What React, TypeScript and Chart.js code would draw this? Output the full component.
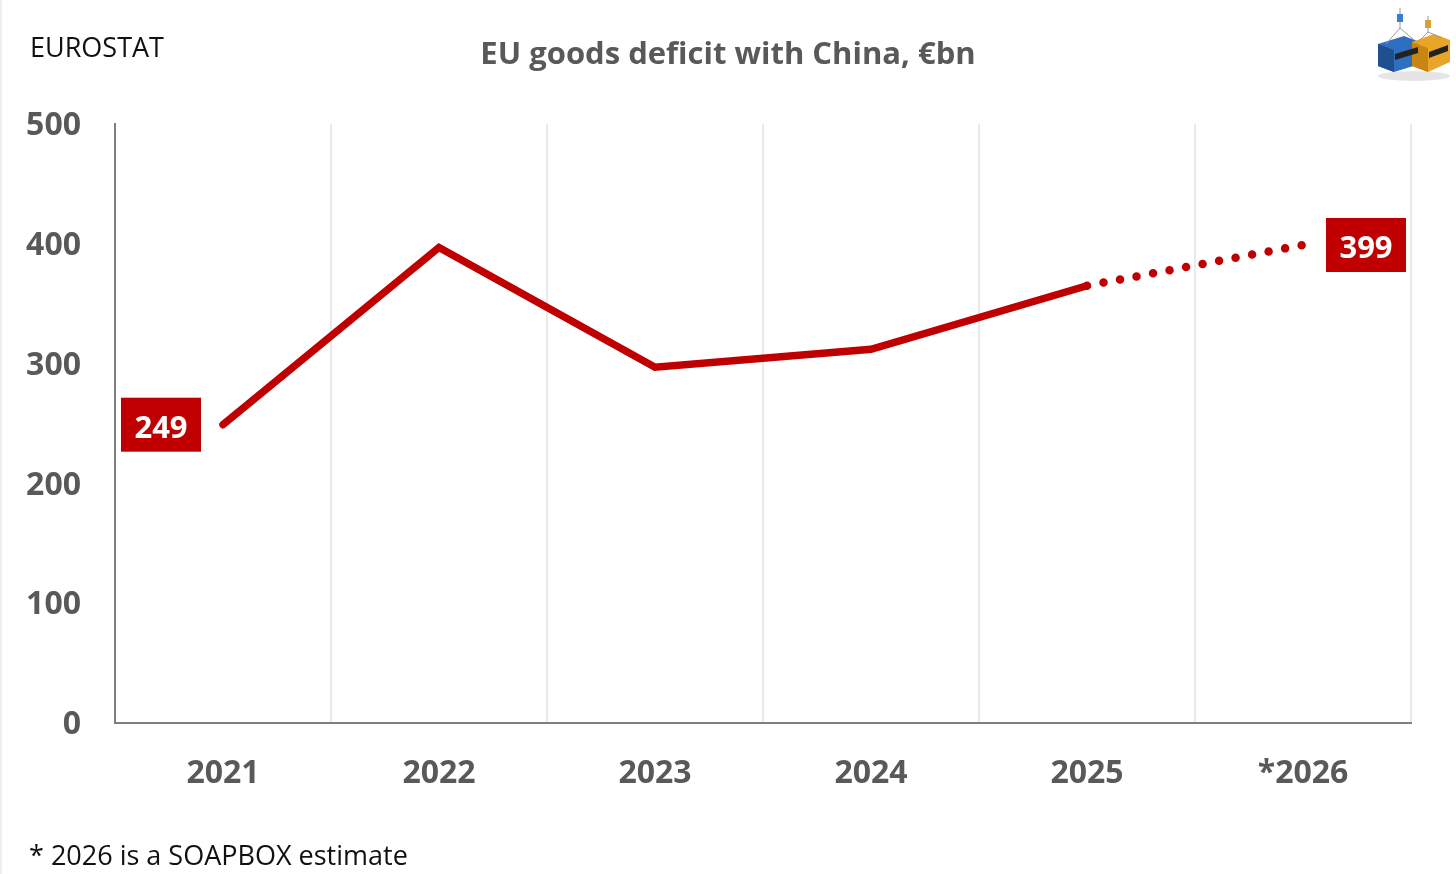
import React, { useEffect, useRef } from "react";
import { Chart, registerables } from "chart.js";

Chart.register(...registerables);

const categories = ["2021", "2022", "2023", "2024", "2025", "*2026"];
const deficit = [249, 397, 297, 312, 365, 399];
const yTicks = [0, 100, 200, 300, 400, 500];
const titleText = "EU goods deficit with China, €bn";
const sourceText = "EUROSTAT";
const noteText = "* 2026 is a SOAPBOX estimate";
const labelledIdx = [0, 5];

const RED = "#C00000";
const GREY = "#595959";
const FONT = "'Open Sans', 'Noto Sans', sans-serif";

const overlayPlugin = {
  id: "overlay",
  afterDatasetsDraw(chart: any) {
    const ctx = chart.ctx;
    const meta = chart.getDatasetMeta(0);
    ctx.save();
    labelledIdx.forEach((i) => {
      const pt = meta.data[i];
      const dx = i === 0 ? -62 : 63;
      const cx = pt.x + dx;
      const cy = pt.y;
      const w = 80;
      const h = 54;
      ctx.fillStyle = RED;
      ctx.fillRect(cx - w / 2, cy - h / 2, w, h);
      ctx.fillStyle = "#ffffff";
      ctx.font = `bold 31px ${FONT}`;
      ctx.textAlign = "center";
      ctx.textBaseline = "middle";
      ctx.fillText(String(deficit[i]), cx, cy + 4);
    });
    ctx.restore();
  },
  afterDraw(chart: any) {
    const ctx = chart.ctx;
    ctx.save();
    // title
    ctx.fillStyle = GREY;
    ctx.font = `bold 31px ${FONT}`;
    ctx.textAlign = "center";
    ctx.textBaseline = "middle";
    ctx.fillText(titleText, 728, 55);
    // source
    ctx.fillStyle = "#111111";
    ctx.font = `27px ${FONT}`;
    ctx.textAlign = "left";
    ctx.fillText(sourceText, 30, 49);
    // note
    ctx.fillText(noteText, 29, 857);
    // simple logo: two containers
    ctx.fillStyle = "rgba(0,0,0,0.10)";
    ctx.beginPath();
    ctx.ellipse(1414, 76, 36, 5, 0, 0, Math.PI * 2);
    ctx.fill();
    // blue container
    ctx.fillStyle = "#2f6fbf";
    ctx.beginPath();
    ctx.moveTo(1378, 44);
    ctx.lineTo(1404, 36);
    ctx.lineTo(1420, 42);
    ctx.lineTo(1420, 64);
    ctx.lineTo(1394, 72);
    ctx.lineTo(1378, 66);
    ctx.closePath();
    ctx.fill();
    ctx.fillStyle = "#1f4f8f";
    ctx.beginPath();
    ctx.moveTo(1378, 44);
    ctx.lineTo(1394, 50);
    ctx.lineTo(1394, 72);
    ctx.lineTo(1378, 66);
    ctx.closePath();
    ctx.fill();
    // orange container
    ctx.fillStyle = "#e8a52a";
    ctx.beginPath();
    ctx.moveTo(1412, 42);
    ctx.lineTo(1434, 34);
    ctx.lineTo(1450, 40);
    ctx.lineTo(1450, 62);
    ctx.lineTo(1428, 72);
    ctx.lineTo(1412, 66);
    ctx.closePath();
    ctx.fill();
    ctx.fillStyle = "#c98512";
    ctx.beginPath();
    ctx.moveTo(1412, 42);
    ctx.lineTo(1428, 48);
    ctx.lineTo(1428, 72);
    ctx.lineTo(1412, 66);
    ctx.closePath();
    ctx.fill();
    ctx.fillStyle = "#222222";
    ctx.beginPath();
    ctx.moveTo(1395, 54);
    ctx.lineTo(1418, 47);
    ctx.lineTo(1418, 53);
    ctx.lineTo(1395, 60);
    ctx.closePath();
    ctx.fill();
    ctx.beginPath();
    ctx.moveTo(1429, 52);
    ctx.lineTo(1448, 45);
    ctx.lineTo(1448, 51);
    ctx.lineTo(1429, 58);
    ctx.closePath();
    ctx.fill();
    ctx.strokeStyle = "#999";
    ctx.lineWidth = 1;
    ctx.beginPath();
    ctx.moveTo(1400, 8);
    ctx.lineTo(1400, 28);
    ctx.lineTo(1386, 44);
    ctx.moveTo(1400, 28);
    ctx.lineTo(1414, 40);
    ctx.moveTo(1428, 16);
    ctx.lineTo(1428, 32);
    ctx.lineTo(1416, 44);
    ctx.moveTo(1428, 32);
    ctx.lineTo(1442, 38);
    ctx.stroke();
    ctx.fillStyle = "#3b7bd0";
    ctx.fillRect(1397, 14, 6, 8);
    ctx.fillStyle = "#d9a030";
    ctx.fillRect(1425, 20, 6, 8);
    // faint frame edge
    ctx.fillStyle = "#eeeeee";
    ctx.fillRect(0, 0, 2, 874);
    ctx.restore();
  },
};

export default function App() {
  const ref = useRef<HTMLCanvasElement | null>(null);
  useEffect(() => {
    if (!ref.current) return;
    const chart = new Chart(ref.current, {
      type: "line",
      data: {
        labels: categories,
        datasets: [
          {
            data: deficit,
            borderColor: RED,
            borderWidth: 7.5,
            borderCapStyle: "round",
            borderJoinStyle: "miter",
            pointRadius: 0,
            pointHoverRadius: 0,
            tension: 0,
            fill: false,
            segment: {
              borderDash: (c: any) => (c.p1DataIndex === 5 ? [0, 16.8] : undefined),
              borderWidth: (c: any) => (c.p1DataIndex === 5 ? 8.5 : 7.5),
            },
          } as any,
        ],
      },
      options: {
        animation: false,
        responsive: false,
        maintainAspectRatio: false,
        devicePixelRatio: 1,
        layout: { padding: { top: 124, left: 0, right: 45, bottom: 0 } },
        plugins: {
          legend: { display: false },
          title: { display: false },
          tooltip: { enabled: false },
        },
        scales: {
          x: {
            type: "category",
            offset: true,
            grid: {
              display: true,
              offset: true,
              color: "#e9e9e9",
              lineWidth: 2,
              drawTicks: false,
            },
            border: { display: true, color: "#7f7f7f", width: 2 },
            ticks: {
              color: GREY,
              font: { family: FONT, size: 32, weight: "bold" },
              padding: 32,
              maxRotation: 0,
            },
            afterFit: (s: any) => {
              s.height = 151;
            },
          },
          y: {
            min: 0,
            max: 500,
            afterBuildTicks: (s: any) => {
              s.ticks = yTicks.map((v) => ({ value: v }));
            },
            grid: { display: false, drawTicks: false },
            border: { display: true, color: "#7f7f7f", width: 2 },
            ticks: {
              color: GREY,
              font: { family: FONT, size: 32, weight: "bold" },
              padding: 34,
              labelOffset: 2,
            },
            afterFit: (s: any) => {
              s.width = 115;
            },
          },
        },
      },
      plugins: [overlayPlugin],
    });
    return () => chart.destroy();
  }, []);
  return (
    <div
      style={{
        position: "fixed",
        left: 0,
        top: 0,
        width: 1456,
        height: 874,
        background: "#ffffff",
      }}
    >
      <canvas ref={ref} width={1456} height={874} style={{ width: 1456, height: 874, display: "block" }} />
    </div>
  );
}
